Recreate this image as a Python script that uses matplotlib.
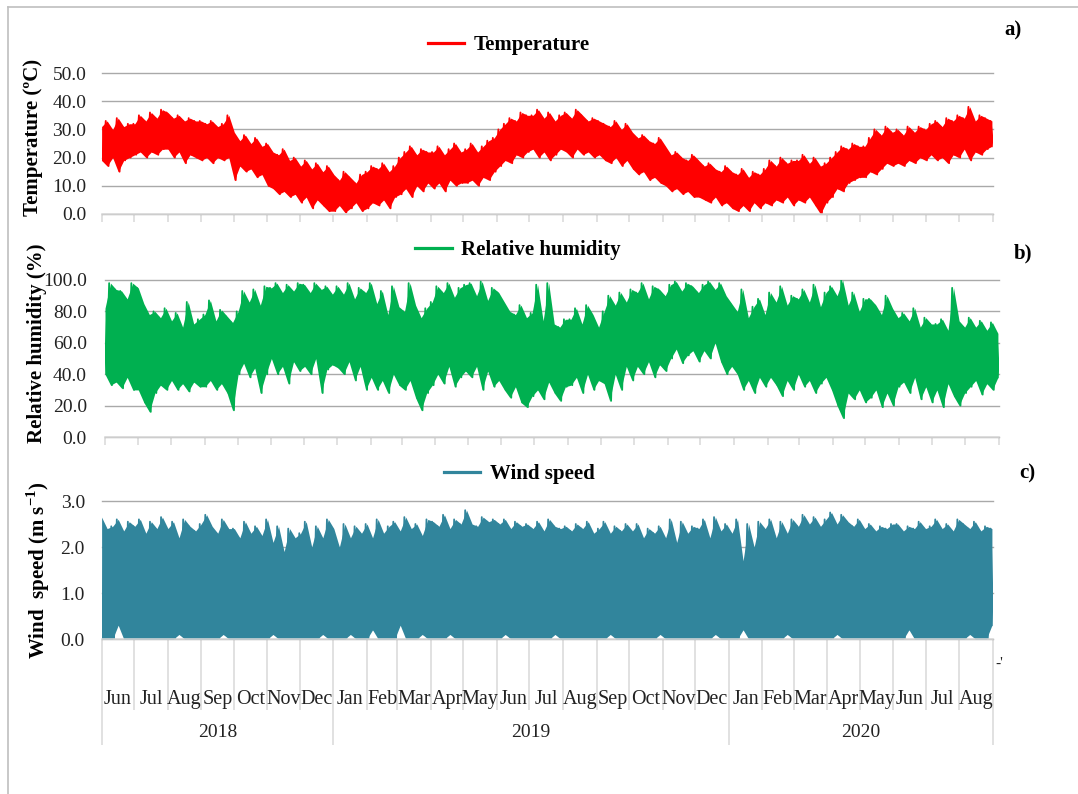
import numpy as np
import pandas as pd
import matplotlib
matplotlib.use('Agg')
import matplotlib.pyplot as plt
import matplotlib.dates as mdates
from matplotlib.lines import Line2D
from matplotlib.ticker import FormatStrFormatter

# Readings about every 5 days from Jun 2018 to Aug 2020 (six per month row):
# upper and lower envelope of the hourly record.
temp_hi = [
    31, 33, 30, 34, 31, 32,   # Jun 2018
    32, 35, 33, 36, 34, 37,   # Jul
    36, 34, 35, 33, 34, 33,   # Aug
    33, 32, 33, 31, 32, 35,   # Sep
    29, 26, 28, 25, 27, 24,   # Oct
    25, 22, 21, 23, 19, 20,   # Nov
    17, 19, 16, 18, 15, 17,   # Dec
    14, 12, 15, 13, 11, 14,   # Jan 2019
    15, 17, 16, 18, 15, 17,   # Feb
    20, 22, 24, 21, 23, 22,   # Mar
    22, 24, 21, 23, 25, 22,   # Apr
    23, 25, 22, 24, 26, 27,   # May
    30, 32, 34, 33, 36, 35,   # Jun
    35, 37, 34, 36, 33, 35,   # Jul
    36, 34, 37, 35, 33, 34,   # Aug
    33, 32, 31, 33, 30, 32,   # Sep
    29, 27, 28, 26, 25, 27,   # Oct
    24, 21, 22, 20, 19, 21,   # Nov
    19, 17, 18, 16, 15, 17,   # Dec
    15, 14, 16, 13, 15, 14,   # Jan 2020
    16, 19, 17, 20, 18, 19,   # Feb
    19, 21, 18, 20, 17, 18,   # Mar
    20, 22, 24, 23, 25, 24,   # Apr
    24, 27, 30, 28, 31, 29,   # May
    30, 28, 31, 29, 31, 30,   # Jun
    32, 33, 31, 34, 33, 35,   # Jul
    34, 38, 33, 35, 34, 33,   # Aug
]
temp_lo = [
    19, 17, 20, 15, 19, 20,
    21, 22, 20, 22, 21, 23,
    23, 20, 22, 18, 21, 20,
    19, 20, 18, 20, 19, 20,
    12, 17, 15, 16, 13, 14,
    10, 9, 7, 8, 6, 7,
    4, 6, 2, 5, 3, 1,
    1, 3, 0.5, 2, 4, 1,
    2, 4, 3, 5, 2, 6,
    7, 9, 6, 10, 8, 11,
    9, 11, 8, 12, 10, 11,
    11, 12, 10, 13, 12, 15,
    17, 19, 18, 21, 20, 22,
    23, 20, 22, 19, 21, 23,
    22, 20, 23, 21, 22, 20,
    21, 19, 18, 20, 17, 19,
    16, 14, 15, 12, 13, 11,
    10, 8, 9, 7, 8, 6,
    6, 5, 4, 6, 3, 4,
    2, 1, 3, 1, 4, 2,
    4, 3, 5, 4, 6, 3,
    5, 4, 6, 3, 0, 4,
    6, 9, 8, 11, 12, 13,
    13, 15, 14, 16, 18, 17,
    18, 17, 19, 18, 20, 19,
    21, 19, 20, 18, 21, 20,
    23, 19, 22, 21, 23, 24,
]

rh_hi = [
    82, 98, 94, 93, 88, 98,   # Jun 2018
    95, 85, 78, 80, 76, 82,   # Jul
    74, 79, 70, 86, 72, 75,   # Aug
    78, 87, 74, 81, 77, 73,   # Sep
    80, 93, 86, 94, 84, 96,   # Oct
    95, 98, 92, 97, 93, 98,   # Nov
    97, 92, 98, 94, 96, 91,   # Dec
    96, 91, 98, 88, 95, 92,   # Jan 2019
    98, 85, 93, 78, 96, 83,   # Feb
    80, 98, 84, 76, 82, 86,   # Mar
    96, 92, 98, 89, 95, 97,   # Apr
    98, 90, 99, 87, 95, 92,   # May
    86, 80, 78, 84, 76, 79,   # Jun
    97, 74, 98, 72, 70, 75,   # Jul
    75, 82, 72, 84, 78, 70,   # Aug
    80, 90, 84, 92, 86, 94,   # Sep
    92, 98, 88, 96, 94, 90,   # Oct
    97, 99, 93, 98, 96, 92,   # Nov
    97, 99, 94, 98, 90, 85,   # Dec
    80, 94, 76, 83, 88, 78,   # Jan 2020
    92, 86, 96, 84, 90, 88,   # Feb
    94, 86, 97, 83, 92, 96,   # Mar
    90, 100, 84, 92, 80, 88,  # Apr
    88, 84, 78, 90, 82, 76,   # May
    79, 74, 82, 70, 76, 72,   # Jun
    72, 75, 68, 95, 74, 70,   # Jul
    76, 70, 74, 68, 73, 66,   # Aug
]
rh_lo = [
    40, 33, 35, 31, 38, 30,
    30, 22, 16, 28, 33, 30,
    36, 30, 34, 29, 35, 32,
    32, 36, 30, 34, 28, 17,
    40, 47, 38, 44, 28, 40,
    50, 40, 45, 34, 48, 42,
    45, 40, 50, 28, 43, 46,
    44, 40, 48, 36, 45, 30,
    38, 30, 36, 28, 40, 33,
    30, 36, 25, 17, 28, 33,
    40, 34, 45, 32, 38, 42,
    38, 45, 30, 42, 32, 36,
    30, 25, 32, 22, 19, 26,
    30, 24, 35, 28, 23, 32,
    33, 38, 28, 40, 30, 36,
    34, 23, 40, 30, 45, 36,
    45, 40, 48, 38, 46, 42,
    50, 56, 47, 52, 55, 48,
    55, 50, 60, 48, 40, 45,
    40, 30, 36, 28, 38, 32,
    38, 33, 26, 36, 30, 40,
    32, 36, 28, 34, 38, 30,
    20, 12, 28, 24, 30, 22,
    25, 30, 19, 28, 20, 32,
    35, 28, 38, 24, 32, 22,
    30, 19, 34, 26, 20, 28,
    32, 36, 27, 34, 30, 38,
]

wind_hi = [
    2.65, 2.40, 2.45, 2.60, 2.35, 2.55,   # Jun 2018
    2.45, 2.60, 2.30, 2.55, 2.40, 2.65,   # Jul
    2.40, 2.55, 2.20, 2.60, 2.45, 2.35,   # Aug
    2.50, 2.70, 2.45, 2.30, 2.60, 2.40,   # Sep
    2.40, 2.20, 2.55, 2.30, 2.45, 2.25,   # Oct
    2.60, 2.10, 2.45, 1.90, 2.40, 2.20,   # Nov
    2.30, 2.55, 2.00, 2.45, 2.20, 2.60,   # Dec
    2.40, 2.00, 2.50, 2.20, 2.45, 2.30,   # Jan 2019
    2.50, 2.20, 2.60, 2.30, 2.45, 2.55,   # Feb
    2.35, 2.65, 2.40, 2.50, 2.25, 2.60,   # Mar
    2.55, 2.45, 2.70, 2.40, 2.60, 2.50,   # Apr
    2.80, 2.50, 2.45, 2.65, 2.55, 2.60,   # May
    2.50, 2.60, 2.40, 2.55, 2.45, 2.50,   # Jun
    2.40, 2.55, 2.35, 2.60, 2.45, 2.40,   # Jul
    2.45, 2.35, 2.50, 2.40, 2.55, 2.30,   # Aug
    2.40, 2.55, 2.30, 2.45, 2.35, 2.50,   # Sep
    2.35, 2.50, 2.20, 2.40, 2.30, 2.45,   # Oct
    2.20, 2.60, 2.10, 2.55, 2.30, 2.45,   # Nov
    2.40, 2.60, 2.20, 2.65, 2.35, 2.50,   # Dec
    2.30, 2.60, 1.70, 2.50, 2.00, 2.55,   # Jan 2020
    2.40, 2.60, 2.20, 2.55, 2.30, 2.60,   # Feb
    2.45, 2.70, 2.50, 2.65, 2.45, 2.60,   # Mar
    2.75, 2.50, 2.70, 2.55, 2.45, 2.60,   # Apr
    2.40, 2.50, 2.35, 2.45, 2.40, 2.50,   # May
    2.50, 2.35, 2.45, 2.40, 2.55, 2.40,   # Jun
    2.45, 2.60, 2.40, 2.50, 2.35, 2.60,   # Jul
    2.50, 2.40, 2.55, 2.35, 2.45, 2.40,   # Aug
]
wind_lo = [
    0.0, 0.0, 0.0, 0.3, 0.0, 0.0,
    0.0, 0.0, 0.0, 0.0, 0.0, 0.0,
    0.0, 0.0, 0.1, 0.0, 0.0, 0.0,
    0.0, 0.0, 0.0, 0.0, 0.1, 0.0,
    0.0, 0.0, 0.0, 0.0, 0.0, 0.0,
    0.0, 0.1, 0.0, 0.0, 0.0, 0.0,
    0.0, 0.0, 0.0, 0.0, 0.1, 0.0,
    0.0, 0.0, 0.0, 0.1, 0.0, 0.0,
    0.0, 0.2, 0.0, 0.0, 0.0, 0.0,
    0.3, 0.0, 0.0, 0.0, 0.1, 0.0,
    0.0, 0.0, 0.0, 0.1, 0.0, 0.0,
    0.0, 0.0, 0.0, 0.0, 0.0, 0.0,
    0.0, 0.1, 0.0, 0.0, 0.0, 0.0,
    0.0, 0.0, 0.0, 0.0, 0.1, 0.0,
    0.0, 0.0, 0.0, 0.0, 0.0, 0.0,
    0.0, 0.0, 0.1, 0.0, 0.0, 0.0,
    0.0, 0.0, 0.0, 0.0, 0.0, 0.1,
    0.0, 0.0, 0.0, 0.0, 0.0, 0.0,
    0.0, 0.0, 0.0, 0.1, 0.0, 0.0,
    0.0, 0.0, 0.2, 0.0, 0.0, 0.0,
    0.0, 0.0, 0.0, 0.0, 0.1, 0.0,
    0.0, 0.0, 0.0, 0.0, 0.0, 0.0,
    0.0, 0.1, 0.0, 0.0, 0.0, 0.0,
    0.0, 0.0, 0.0, 0.0, 0.0, 0.0,
    0.0, 0.0, 0.2, 0.0, 0.0, 0.0,
    0.0, 0.0, 0.0, 0.0, 0.0, 0.0,
    0.0, 0.1, 0.0, 0.0, 0.0, 0.3,
]

month_names = ['Jun', 'Jul', 'Aug', 'Sep', 'Oct', 'Nov', 'Dec',
               'Jan', 'Feb', 'Mar', 'Apr', 'May', 'Jun', 'Jul', 'Aug', 'Sep', 'Oct', 'Nov', 'Dec',
               'Jan', 'Feb', 'Mar', 'Apr', 'May', 'Jun', 'Jul', 'Aug']
year_names = ['2018', '2019', '2020']

plt.rcParams['font.family'] = ['Liberation Serif', 'DejaVu Serif']
plt.rcParams['mathtext.fontset'] = 'custom'
plt.rcParams['mathtext.rm'] = 'Liberation Serif'
plt.rcParams['mathtext.bf'] = 'Liberation Serif:bold'

W, H = 1078, 794
fig = plt.figure(figsize=(W / 100, H / 100), dpi=100)

GRID = '#a9a9a9'
AXIS = '#d9d9d9'
TXT = '#222222'

t_start = mdates.date2num(pd.Timestamp('2018-06-01'))
t_end = mdates.date2num(pd.Timestamp('2020-09-01'))
t_last = mdates.date2num(pd.Timestamp('2020-08-31'))
month_edges = pd.date_range('2018-06-01', '2020-09-01', freq='MS')
edge_num = mdates.date2num(month_edges)


def add_ax(left, top, right, bottom):
    # axes placed by pixel box
    return fig.add_axes([left / W, 1 - bottom / H, (right - left) / W, (bottom - top) / H])


def draw_series(ax, hi, lo, color):
    hi = np.asarray(hi, float)
    lo = np.asarray(lo, float)
    x = np.linspace(t_start, t_last, len(hi))
    step = x[1] - x[0]
    ax.fill_between(x, lo, hi, color=color, lw=0)
    xz = np.column_stack((x - step / 4, x + step / 4)).ravel()
    yz = np.column_stack((hi, lo)).ravel()
    ax.plot(xz, yz, color=color, lw=1.3)


def style_ax(ax, ymax, ystep, pad):
    ax.set_xlim(t_start, t_end)
    ax.set_ylim(0, ymax)
    ax.set_yticks(np.arange(0, ymax + ystep / 2, ystep))
    ax.yaxis.set_major_formatter(FormatStrFormatter('%.1f'))
    ax.set_xticks(edge_num)
    ax.set_xticklabels([])
    for s in ['top', 'right', 'left']:
        ax.spines[s].set_visible(False)
    ax.spines['bottom'].set_color(AXIS)
    ax.spines['bottom'].set_linewidth(1.1)
    ax.tick_params(axis='y', length=0, pad=pad, labelsize=14, labelcolor=TXT)
    ax.tick_params(axis='x', length=5.5, width=1.1, color=AXIS, direction='out')
    ax.yaxis.grid(True, color=GRID, lw=1.0)
    ax.set_axisbelow(True)
    for gl in ax.get_ygridlines():
        gl.set_clip_on(False)


def legend(ax, color, label, cx, cy):
    h = Line2D([], [], color=color, lw=2.3)
    ax.legend([h], [label], loc='center', bbox_to_anchor=(cx / W, 1 - cy / H),
              bbox_transform=fig.transFigure, frameon=False, handlelength=1.75,
              handletextpad=0.45, borderpad=0, borderaxespad=0,
              prop=dict(family='Liberation Serif', weight='bold', size=15))


# a) temperature
ax1 = add_ax(101.6, 73, 993, 214)
draw_series(ax1, temp_hi, temp_lo, '#ff0000')
style_ax(ax1, 50, 10, 11)
legend(ax1, '#ff0000', 'Temperature', 509, 45)

# b) relative humidity
ax2 = add_ax(105, 280, 999, 437)
draw_series(ax2, rh_hi, rh_lo, '#00b050')
style_ax(ax2, 100, 20, 13)
legend(ax2, '#00b050', 'Relative humidity', 518, 250)

# c) wind speed
ax3 = add_ax(101.6, 501, 993, 639)
draw_series(ax3, wind_hi, wind_lo, '#31859c')
style_ax(ax3, 3, 1, 12)
legend(ax3, '#31859c', 'Wind speed', 519, 474)

# date axis under the wind panel: month boundaries, longer lines at year breaks
year_edges = mdates.date2num(pd.to_datetime(['2018-06-01', '2019-01-01', '2020-01-01', '2020-09-01']))
ax3.set_xticks(year_edges)
ax3.set_xticks(edge_num, minor=True)
ax3.tick_params(axis='x', which='major', length=76, width=1.1, color=AXIS)
ax3.tick_params(axis='x', which='minor', length=51, width=1.1, color=AXIS)

tr = ax3.get_xaxis_transform()
mid = edge_num[:-1] + np.diff(edge_num) / 2
for xm, name in zip(mid, month_names):
    ax3.text(xm, -0.435, name, transform=tr, ha='center', va='center', fontsize=14.5, color=TXT)
for x0, x1, name in zip(year_edges[:-1], year_edges[1:], year_names):
    ax3.text((x0 + x1) / 2, -0.68, name, transform=tr, ha='center', va='center', fontsize=14, color=TXT)

# axis titles
lab = dict(rotation=90, ha='center', va='center', fontsize=15, fontweight='bold', color='black')
fig.text(33 / W, 1 - 137 / H, 'Temperature (ºC)', **lab)
fig.text(37 / W, 1 - 343 / H, 'Relative humidity (%)', **lab)
fig.text(38 / W, 1 - 570 / H, r'Wind  speed (m s$^{\mathbf{-1}}$)', **lab)

# panel letters
for lx, ly, s in [(1013, 30, 'a)'), (1023, 253, 'b)'), (1027, 473, 'c)')]:
    fig.text(lx / W, 1 - ly / H, s, ha='center', va='center', fontsize=15, fontweight='bold')

fig.text(999 / W, 1 - 663 / H, "-'", ha='center', va='center', fontsize=11, color=TXT)

# outer frame
fig.add_artist(Line2D([8 / W, 8 / W], [0, 1 - 7 / H], color='#bfbfbf', lw=1.2))
fig.add_artist(Line2D([8 / W, 1], [1 - 7 / H, 1 - 7 / H], color='#bfbfbf', lw=1.2))

fig.savefig('out.png', dpi=100)
